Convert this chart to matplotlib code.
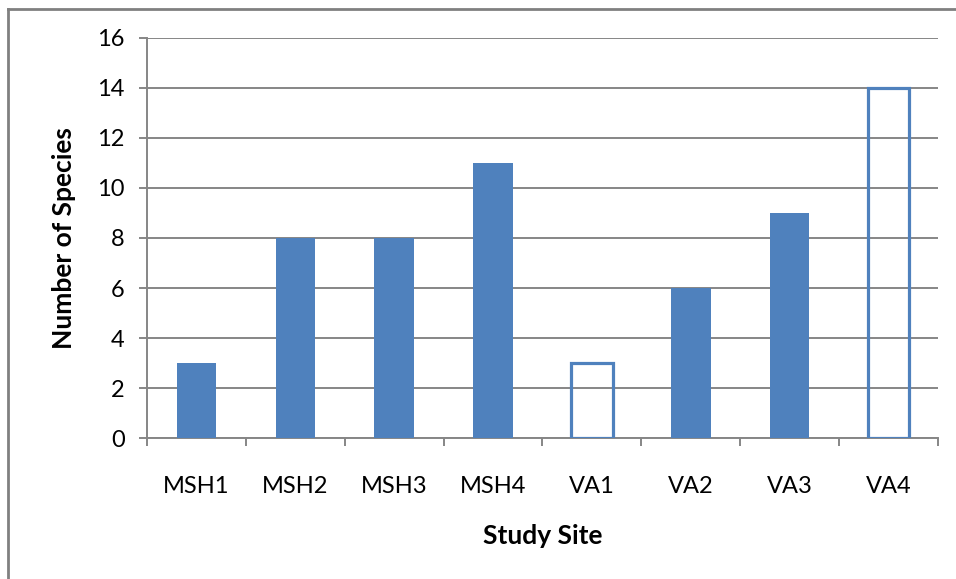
import matplotlib.pyplot as plt
from matplotlib.lines import Line2D
import numpy as np

plt.rcParams['font.family'] = ['Lato', 'DejaVu Sans']

sites = ['MSH1', 'MSH2', 'MSH3', 'MSH4', 'VA1', 'VA2', 'VA3', 'VA4']
species = [3, 8, 8, 11, 3, 6, 9, 14]
hollow = [False, False, False, False, True, False, False, True]

blue = '#4F81BD'
grey = '#868686'

fig = plt.figure(figsize=(9.56, 5.79), dpi=100)
ax = fig.add_axes([0.1538, 0.2435, 0.8273, 0.6909])

x = np.arange(len(sites))
for xi, val, h in zip(x, species, hollow):
    if h:
        ax.bar(xi, val, width=0.42, facecolor='none', edgecolor=blue,
               linewidth=2.3, zorder=3)
    else:
        ax.bar(xi, val, width=0.40, color=blue, zorder=3)

ax.set_xlim(-0.5, len(sites) - 0.5)
ax.set_ylim(0, 16)
ax.set_yticks(range(0, 17, 2))
ax.yaxis.grid(True, color=grey, linewidth=1.4, zorder=1)
ax.set_axisbelow(True)

# category labels centred, ticks at the boundaries
ax.set_xticks(x)
ax.set_xticklabels(sites)
ax.set_xticks(np.arange(-0.5, len(sites)), minor=True)
ax.tick_params(axis='x', which='major', length=0, pad=27, labelsize=17)
ax.tick_params(axis='x', which='minor', length=6, width=1.4, color=grey,
               direction='out')
ax.tick_params(axis='y', length=6, width=1.4, color=grey, labelsize=17, pad=10)

for side in ['top', 'right']:
    ax.spines[side].set_visible(False)
for side in ['left', 'bottom']:
    ax.spines[side].set_color(grey)
    ax.spines[side].set_linewidth(1.4)

ax.set_xlabel('Study Site', fontsize=19, fontweight='bold', labelpad=20)
ax.set_ylabel('Number of Species', fontsize=19, fontweight='bold', labelpad=15)

# outer frame (top and left edges)
fig.add_artist(Line2D([7.5 / 956, 1.0], [1 - 8.5 / 579, 1 - 8.5 / 579],
                      transform=fig.transFigure, color='#808080', linewidth=2))
fig.add_artist(Line2D([7.5 / 956, 7.5 / 956], [1 - 8.5 / 579, 0.0],
                      transform=fig.transFigure, color='#808080', linewidth=2))

fig.savefig('out.png', dpi=100)
